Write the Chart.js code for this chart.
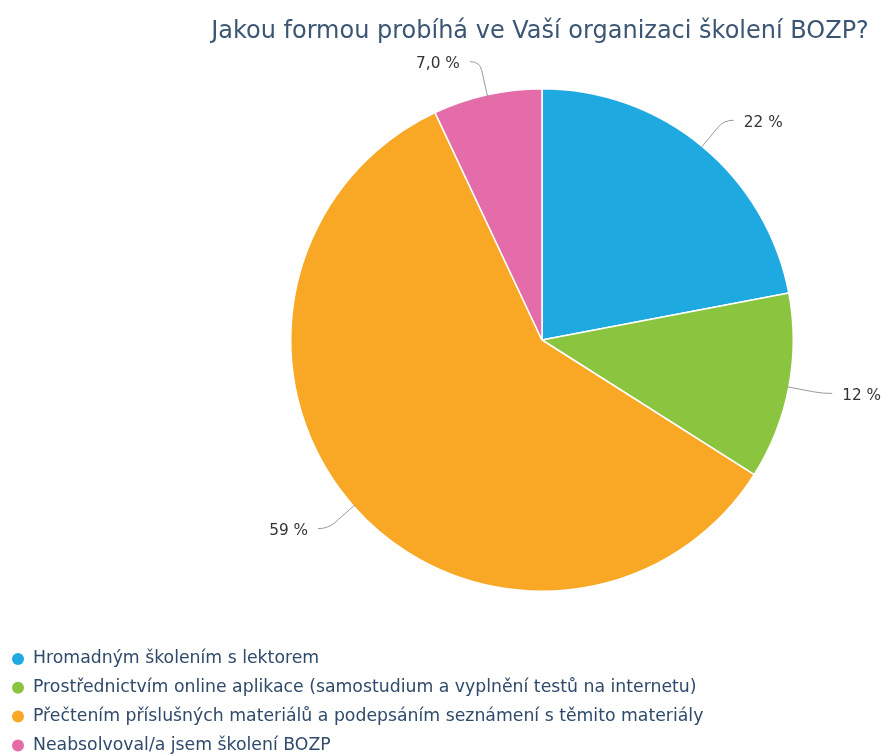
<!DOCTYPE html>
<html>
<head>
<meta charset="utf-8">
<script src="https://cdn.jsdelivr.net/npm/chart.js@4"></script>
<style>
  html, body { margin: 0; padding: 0; background: #fff; }
  #wrap { width: 883px; height: 756px; position: relative; }
</style>
</head>
<body>
<div id="wrap"><canvas id="pie"></canvas></div>
<script>
const title = 'Jakou formou probíhá ve Vaší organizaci školení BOZP?'
const categories = [
  'Hromadným školením s lektorem',
  'Prostřednictvím online aplikace (samostudium a vyplnění testů na internetu)',
  'Přečtením příslušných materiálů a podepsáním seznámení s těmito materiály',
  'Neabsolvoval/a jsem školení BOZP'
]
const shares = [22, 12, 59, 7.0]
const colors = ['#1fa9e1', '#8bc540', '#f9a825', '#e46ca8']

const FONT = '"DejaVu Sans", sans-serif'
const fmt = v => v.toPrecision(2).replace('.', ',') + ' %'

// title, leader lines with labels, legend
const decorations = {
  id: 'decorations',
  afterDatasetsDraw(chart) {
    const ctx = chart.ctx
    const meta = chart.getDatasetMeta(0)
    ctx.save()

    ctx.fillStyle = '#3b5573'
    ctx.font = '24px ' + FONT
    ctx.textAlign = 'center'
    ctx.textBaseline = 'alphabetic'
    ctx.fillText(title, 540, 38)

    meta.data.forEach((arc, i) => {
      const { x, y, startAngle, endAngle, outerRadius } = arc.getProps(['x', 'y', 'startAngle', 'endAngle', 'outerRadius'], true)
      const mid = (startAngle + endAngle) / 2
      const cos = Math.cos(mid), sin = Math.sin(mid)
      const right = cos >= 0
      const x0 = x + cos * (outerRadius - 2), y0 = y + sin * (outerRadius - 2)
      const x1 = x + cos * (outerRadius + 34), y1 = y + sin * (outerRadius + 34)
      const x2 = x1 + (right ? 10 : -10)
      ctx.strokeStyle = '#999'
      ctx.lineWidth = 1
      ctx.beginPath()
      ctx.moveTo(x0, y0)
      ctx.lineTo(x + cos * (outerRadius + 25), y + sin * (outerRadius + 25))
      ctx.quadraticCurveTo(x1, y1, x2, y1)
      ctx.stroke()
      ctx.fillStyle = '#333'
      ctx.font = '15.3px ' + FONT
      ctx.textBaseline = 'middle'
      ctx.textAlign = right ? 'left' : 'right'
      ctx.fillText(fmt(chart.data.datasets[0].data[i]), x2 + (right ? 10 : -10), y1 + 2.5)
    })

    ctx.font = '17.3px ' + FONT
    ctx.textAlign = 'left'
    ctx.textBaseline = 'middle'
    chart.data.labels.forEach((lab, i) => {
      const ly = 659 + i * 28.8
      ctx.fillStyle = colors[i]
      ctx.beginPath()
      ctx.arc(18, ly, 6, 0, Math.PI * 2)
      ctx.fill()
      ctx.fillStyle = '#2f4a6a'
      ctx.fillText(lab, 33, ly)
    })
    ctx.restore()
  }
}

new Chart(document.getElementById('pie'), {
  type: 'pie',
  data: {
    labels: categories,
    datasets: [{
      data: shares,
      backgroundColor: colors,
      borderColor: '#fff',
      borderWidth: 1.5,
    }]
  },
  options: {
    responsive: true,
    maintainAspectRatio: false,
    animation: false,
    layout: { padding: { top: 88, bottom: 164, left: 290, right: 89 } },
    plugins: {
      legend: { display: false },
      tooltip: { enabled: false },
    }
  },
  plugins: [decorations]
})
</script>
</body>
</html>
